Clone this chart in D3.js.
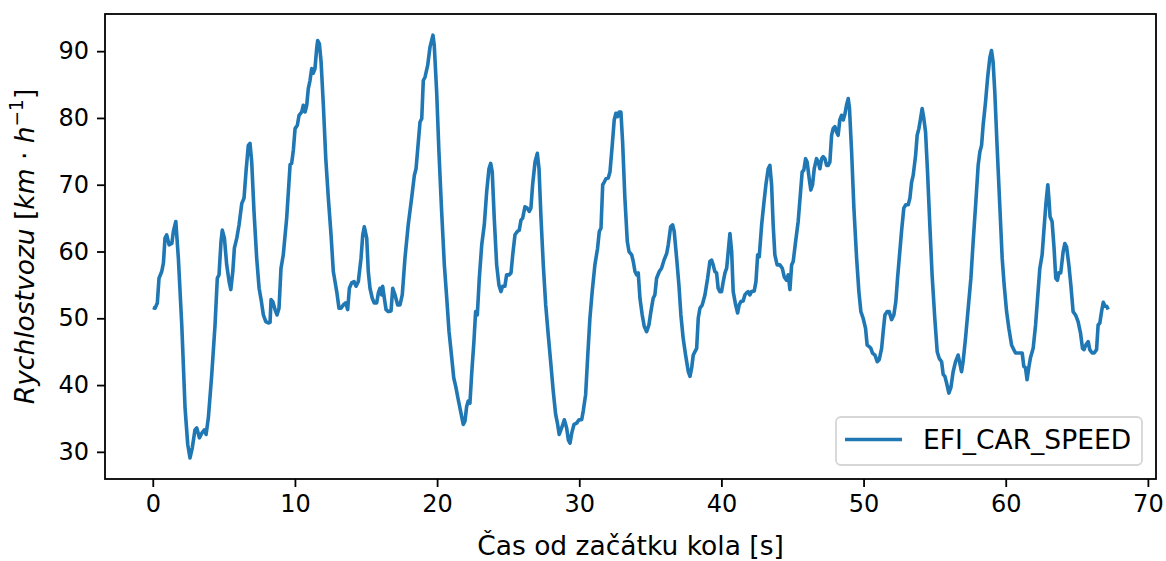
<!DOCTYPE html>
<html>
<head>
<meta charset="utf-8">
<script src="https://cdn.jsdelivr.net/npm/d3@7"></script>
<style>
  html, body { margin: 0; padding: 0; background: #fff; }
  svg { display: block; }
  text { font-family: "DejaVu Sans", sans-serif; fill: #000; }
</style>
</head>
<body>
<svg id="chart" width="1166" height="561"></svg>
<script>
const seriesName = "EFI_CAR_SPEED";
const xLabel = "Čas od začátku kola [s]";
const xTicks = [0, 10, 20, 30, 40, 50, 60, 70];
const yTicks = [30, 40, 50, 60, 70, 80, 90];

const time = [
0.00,0.16,0.32,0.44,0.63,0.75,0.86,0.98,1.15,1.34,1.45,1.62,1.80,2.04,2.27,2.46,2.62,2.78,2.97,3.09,
3.28,3.45,3.63,3.75,3.91,4.15,4.38,4.54,4.66,4.80,4.89,5.04,5.20,5.37,5.49,5.63,5.74,5.91,6.07,6.26,
6.42,6.56,6.72,6.84,6.96,7.12,7.31,7.48,7.62,7.78,7.95,8.13,8.25,8.32,8.44,8.60,8.74,8.88,9.02,9.18,
9.42,9.66,9.77,9.89,10.01,10.17,10.29,10.48,10.59,10.71,10.83,10.94,11.06,11.18,11.29,11.41,11.53,11.60,11.72,11.84,
12.00,12.17,12.35,12.54,12.70,12.82,12.94,13.10,13.24,13.40,13.57,13.71,13.83,13.99,14.16,14.30,14.46,14.65,14.77,14.88,
15.05,15.16,15.28,15.44,15.58,15.75,15.87,15.98,16.10,16.17,16.29,16.41,16.57,16.76,16.88,17.04,17.23,17.39,17.55,17.74,
17.97,18.21,18.40,18.52,18.68,18.80,18.92,19.03,19.15,19.34,19.50,19.71,19.80,19.97,20.13,20.32,20.51,20.68,20.84,21.03,
21.17,21.31,21.49,21.68,21.84,21.96,22.08,22.19,22.31,22.43,22.59,22.71,22.83,22.97,23.14,23.32,23.49,23.65,23.77,23.88,
24.02,24.19,24.35,24.49,24.61,24.77,24.89,25.06,25.20,25.32,25.48,25.64,25.78,25.90,26.02,26.18,26.34,26.48,26.60,26.72,
26.89,27.05,27.17,27.31,27.47,27.64,27.82,28.01,28.17,28.34,28.48,28.59,28.71,28.80,28.95,29.11,29.23,29.35,29.47,29.63,
29.82,29.98,30.17,30.28,30.45,30.59,30.75,30.91,31.10,31.29,31.41,31.53,31.65,31.76,31.88,32.04,32.16,32.32,32.46,32.58,
32.70,32.81,32.93,33.05,33.21,33.38,33.50,33.69,33.80,33.92,34.04,34.15,34.27,34.43,34.57,34.74,34.90,35.04,35.20,35.32,
35.44,35.63,35.79,35.96,36.15,36.26,36.43,36.57,36.68,36.85,37.01,37.15,37.31,37.48,37.67,37.79,37.91,38.02,38.14,38.26,
38.37,38.49,38.65,38.84,39.03,39.19,39.31,39.42,39.54,39.66,39.77,39.89,40.01,40.13,40.25,40.37,40.48,40.60,40.72,40.83,
41.00,41.14,41.25,41.37,41.53,41.65,41.77,41.88,42.00,42.12,42.31,42.43,42.55,42.66,42.83,43.00,43.13,43.29,43.41,43.53,
43.64,43.76,43.92,44.11,44.28,44.42,44.58,44.70,44.82,44.94,45.05,45.22,45.40,45.57,45.68,45.80,45.92,46.03,46.17,46.29,
46.41,46.53,46.69,46.81,46.93,47.05,47.16,47.28,47.40,47.51,47.63,47.75,47.86,47.98,48.10,48.21,48.33,48.45,48.57,48.68,
48.80,48.92,49.01,49.16,49.32,49.51,49.67,49.81,49.97,50.14,50.25,50.37,50.51,50.63,50.80,50.96,51.10,51.27,51.38,51.50,
51.66,51.80,51.97,52.13,52.27,52.39,52.55,52.67,52.83,52.97,53.14,53.26,53.38,53.49,53.66,53.77,53.89,54.01,54.12,54.24,
54.36,54.50,54.66,54.82,55.01,55.18,55.32,55.49,55.60,55.72,55.84,56.00,56.14,56.30,56.47,56.65,56.77,56.89,57.00,57.17,
57.36,57.55,57.71,57.90,58.06,58.18,58.30,58.41,58.58,58.72,58.88,59.00,59.11,59.23,59.40,59.58,59.75,59.89,60.06,60.22,
60.41,60.57,60.69,60.99,61.16,61.27,61.39,61.50,61.62,61.74,61.93,62.10,62.24,62.40,62.56,62.68,62.82,62.96,63.05,63.12,
63.26,63.40,63.52,63.64,63.73,63.87,64.04,64.16,64.28,64.44,64.58,64.74,64.91,65.09,65.26,65.40,65.51,65.63,65.80,65.91,
66.08,66.22,66.39,66.50,66.62,66.74,66.86,66.98,67.10,67.21
];

const speed = [
51.6,51.5,52.3,56.0,57.0,58.3,62.0,62.5,61.0,61.2,63.0,64.5,59.0,49.0,36.6,31.1,29.1,30.6,33.3,33.6,
32.1,32.8,33.3,32.6,35.1,41.6,49.0,56.0,56.5,61.5,63.2,62.0,58.0,55.5,54.3,57.0,60.5,62.0,64.0,67.2,
68.0,72.0,75.9,76.2,73.4,66.0,59.0,54.5,52.8,50.5,49.5,49.3,49.4,52.8,52.5,51.3,50.5,51.5,57.5,59.5,
65.0,73.0,73.2,75.2,78.4,78.9,80.4,80.9,81.9,80.9,81.9,84.4,85.6,87.4,86.7,87.4,90.4,91.6,91.1,88.4,
81.9,73.9,68.0,62.5,57.0,55.5,54.0,51.5,51.5,52.0,52.3,51.3,54.5,55.3,55.5,54.8,55.5,59.0,62.5,63.7,
62.0,57.0,54.5,53.0,52.3,52.3,53.8,54.5,53.5,54.8,53.0,51.3,51.0,51.1,54.5,53.5,52.0,52.0,53.5,59.0,
64.0,68.0,71.4,72.4,76.4,79.4,79.9,85.6,86.1,87.9,90.6,92.4,90.9,83.9,74.9,66.0,58.0,53.0,48.0,44.1,
41.1,39.8,37.8,35.8,34.1,34.6,36.8,37.6,37.3,41.6,46.5,51.0,50.5,56.0,61.0,64.0,69.0,72.4,73.2,71.9,
65.0,58.0,55.0,54.0,54.8,54.8,56.5,56.5,56.8,59.5,62.5,63.0,63.2,64.7,65.0,66.7,66.5,66.0,66.5,70.0,
73.4,74.7,72.4,65.0,58.0,52.0,47.5,43.0,39.1,35.6,34.1,32.6,33.3,33.8,34.8,33.6,31.8,31.3,32.8,34.1,
34.3,34.8,34.8,36.1,38.6,44.1,50.0,54.0,58.0,60.5,63.0,63.5,70.0,70.4,70.9,71.0,71.9,75.9,79.7,80.7,
80.2,80.9,80.9,76.4,68.0,61.5,60.0,59.5,58.5,57.0,56.5,56.8,53.0,50.5,48.8,48.0,49.0,51.0,53.0,53.5,
56.0,57.0,57.5,58.7,59.7,61.0,63.7,64.0,63.0,59.0,55.0,50.5,47.0,44.5,42.0,41.3,42.6,44.5,45.0,45.5,
50.0,51.5,52.0,53.5,56.0,58.5,58.7,58.0,57.0,56.8,54.5,54.0,54.0,55.5,56.8,57.5,60.0,62.7,60.0,54.0,
52.0,50.8,52.0,52.5,52.6,53.5,53.8,54.0,53.5,54.0,54.1,55.5,59.5,59.2,64.0,67.5,70.0,72.4,72.9,70.0,
64.0,59.5,58.0,58.0,57.5,56.2,55.7,56.5,54.3,58.0,58.5,61.5,64.5,69.0,71.9,72.2,73.9,73.4,71.0,69.2,
70.0,72.4,73.9,73.4,72.4,73.9,74.2,73.9,72.9,72.9,73.4,77.4,78.4,78.7,77.9,77.4,79.7,80.4,79.7,80.5,
81.9,82.9,81.4,74.9,66.5,59.0,54.0,51.0,50.0,48.5,46.0,45.8,45.5,44.8,44.5,43.5,43.8,45.5,48.0,50.5,
51.0,51.0,49.8,50.5,52.5,56.0,60.0,63.0,66.5,67.0,67.0,68.0,70.4,71.4,74.4,77.4,78.4,79.9,81.4,79.9,
77.9,71.9,64.0,56.5,50.0,45.0,44.0,43.5,41.6,41.3,40.3,38.8,39.6,42.0,43.5,44.5,43.3,42.0,43.5,47.0,
51.5,56.0,61.5,67.5,72.9,74.9,75.9,78.9,82.4,85.9,89.0,90.1,88.4,83.9,75.4,67.0,59.0,55.0,51.0,48.5,
46.0,45.3,44.8,44.8,44.8,42.8,42.6,40.8,42.6,44.1,45.5,49.0,53.0,57.5,59.5,63.0,67.0,70.0,67.5,65.2,
64.5,60.5,56.0,55.7,56.8,56.8,60.0,61.2,60.7,58.0,55.0,51.0,50.5,49.5,47.8,45.5,45.3,46.0,46.5,45.3,
44.8,44.8,45.3,49.0,49.3,51.0,52.4,51.8,51.8,51.3
];

const data = time.map((t, i) => ({ t, v: speed[i] }));

const plot = { left: 105, right: 1156, top: 14, bottom: 479 };
const FS_TICK = 24;
const FS = 26.5;
const color = "#1f77b4";

const svg = d3.select("#chart");

const tExt = d3.extent(time), vExt = d3.extent(speed);
const tPad = (tExt[1] - tExt[0]) * 0.05, vPad = (vExt[1] - vExt[0]) * 0.05;

const x = d3.scaleLinear().domain([tExt[0] - tPad, tExt[1] + tPad]).range([plot.left, plot.right]);
const y = d3.scaleLinear().domain([vExt[0] - vPad, vExt[1] + vPad]).range([plot.bottom, plot.top]);

// line
const line = d3.line().x(d => x(d.t)).y(d => y(d.v));
svg.append("path")
  .datum(data)
  .attr("d", line)
  .attr("fill", "none")
  .attr("stroke", color)
  .attr("stroke-width", 3.6)
  .attr("stroke-linejoin", "round")
  .attr("stroke-linecap", "butt");

// axes
const xAxis = d3.axisBottom(x).tickValues(xTicks).tickSize(8).tickPadding(8).tickFormat(d3.format("d"));
const yAxis = d3.axisLeft(y).tickValues(yTicks).tickSize(8).tickPadding(8).tickFormat(d3.format("d"));

const gx = svg.append("g").attr("transform", `translate(0,${plot.bottom})`).call(xAxis);
const gy = svg.append("g").attr("transform", `translate(${plot.left},0)`).call(yAxis);
[gx, gy].forEach(g => {
  g.select(".domain").remove();
  g.selectAll(".tick line").attr("stroke", "#000").attr("stroke-width", 1.8);
  g.selectAll(".tick text").attr("font-size", FS_TICK).attr("font-family", "DejaVu Sans").attr("fill", "#000");
});

// frame
svg.append("rect")
  .attr("x", plot.left).attr("y", plot.top)
  .attr("width", plot.right - plot.left).attr("height", plot.bottom - plot.top)
  .attr("fill", "none").attr("stroke", "#000").attr("stroke-width", 1.8);

// x label
svg.append("text")
  .attr("x", (plot.left + plot.right) / 2)
  .attr("y", 555)
  .attr("text-anchor", "middle")
  .attr("font-size", FS)
  .text(xLabel);

// y label (mathtext-like)
const yl = svg.append("text")
  .attr("transform", `translate(34,${(plot.top + plot.bottom) / 2}) rotate(-90)`)
  .attr("text-anchor", "middle")
  .attr("font-size", FS);
yl.append("tspan").attr("font-style", "italic").text("Rychlostvozu");
yl.append("tspan").text(" [");
yl.append("tspan").attr("font-style", "italic").text("km");
yl.append("tspan").text(" · ");
yl.append("tspan").attr("font-style", "italic").text("h");
yl.append("tspan").attr("font-size", FS * 0.7).attr("dy", -11).text("−1");
yl.append("tspan").attr("dy", 11).text("]");

// legend
const lg = svg.append("g");
lg.append("rect")
  .attr("x", 836).attr("y", 417).attr("width", 306).attr("height", 48)
  .attr("rx", 5).attr("ry", 5)
  .attr("fill", "#fff").attr("fill-opacity", 0.8)
  .attr("stroke", "#d6d6d6").attr("stroke-width", 1.8);
lg.append("line")
  .attr("x1", 845).attr("x2", 902).attr("y1", 439.5).attr("y2", 439.5)
  .attr("stroke", color).attr("stroke-width", 3.6);
lg.append("text")
  .attr("x", 923).attr("y", 449)
  .attr("font-size", FS)
  .text(seriesName);
</script>
</body>
</html>
